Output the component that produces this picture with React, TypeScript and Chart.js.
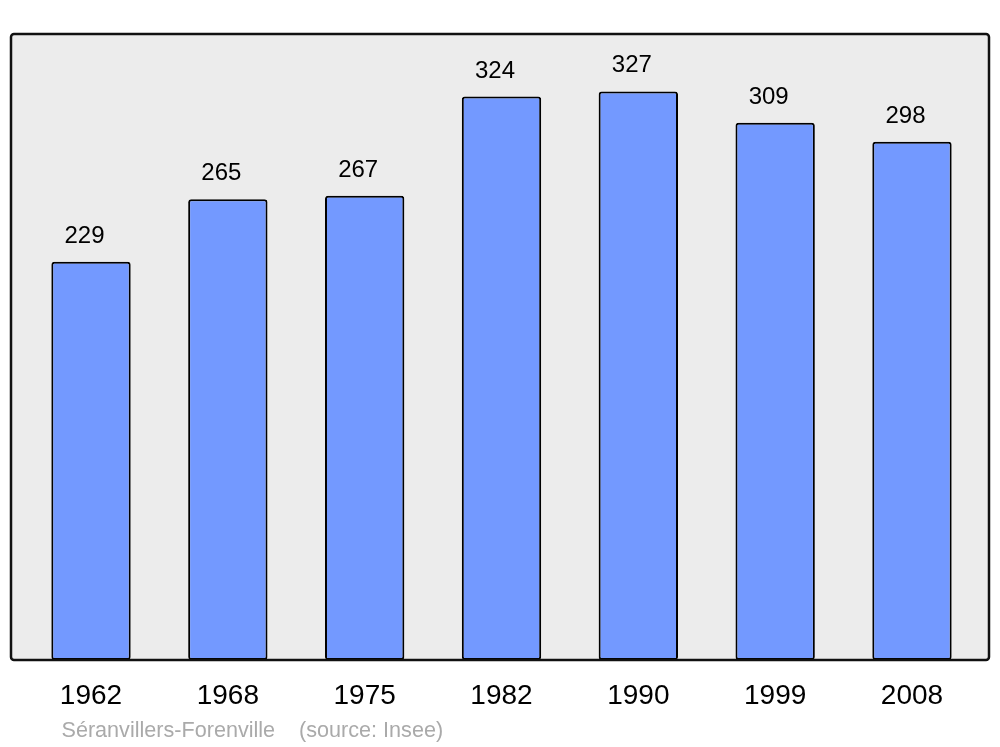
import React, { useEffect, useRef } from "react";
import { Chart, registerables } from "chart.js";

Chart.register(...registerables);

const years = ["1962", "1968", "1975", "1982", "1990", "1999", "2008"];
const population = [229, 265, 267, 324, 327, 309, 298];
const sourceText = "Séranvillers-Forenville    (source: Insee)";

const FONT = "'Liberation Sans', Arial, sans-serif";

const framePlugin = {
  id: "frame",
  beforeDatasetsDraw(chart: any) {
    const { ctx, chartArea } = chart;
    const l = chartArea.left - 11.6;
    const r = chartArea.right + 8.6;
    const t = chartArea.top;
    const b = chartArea.bottom;
    ctx.save();
    ctx.beginPath();
    ctx.roundRect(l, t, r - l, b - t, 3);
    ctx.fillStyle = "#ececec";
    ctx.fill();
    ctx.restore();
  },
  afterDatasetsDraw(chart: any) {
    const { ctx, chartArea } = chart;
    const l = chartArea.left - 11.6;
    const r = chartArea.right + 8.6;
    const t = chartArea.top;
    const b = chartArea.bottom;
    ctx.save();
    ctx.beginPath();
    ctx.roundRect(l, t, r - l, b - t, 3);
    ctx.lineWidth = 2.5;
    ctx.strokeStyle = "#111111";
    ctx.stroke();

    const meta = chart.getDatasetMeta(0);
    ctx.fillStyle = "#000000";
    ctx.font = `24px ${FONT}`;
    ctx.textAlign = "center";
    ctx.textBaseline = "alphabetic";
    meta.data.forEach((bar: any, i: number) => {
      ctx.fillText(String(population[i]), bar.x - 6.5, bar.y - 19);
    });

    ctx.fillStyle = "#aaaaaa";
    ctx.font = `21.6px ${FONT}`;
    ctx.textAlign = "left";
    ctx.fillText(sourceText, 61.5, 737);
    ctx.restore();
  },
};

export default function App() {
  const ref = useRef<HTMLCanvasElement | null>(null);
  useEffect(() => {
    if (!ref.current) return;
    const chart = new Chart(ref.current, {
      type: "bar",
      data: {
        labels: years,
        datasets: [
          {
            data: population,
            backgroundColor: "#7399ff",
            borderColor: "#000000",
            borderWidth: 2,
            borderRadius: 3,
            borderSkipped: false,
            categoryPercentage: 1,
            barPercentage: 0.58,
          },
        ],
      },
      options: {
        animation: false,
        responsive: false,
        maintainAspectRatio: false,
        devicePixelRatio: 1,
        layout: { padding: { left: 22.6, right: 19.6, top: 34, bottom: 0 } },
        plugins: {
          legend: { display: false },
          tooltip: { enabled: false },
        },
        scales: {
          x: {
            grid: { display: false, drawTicks: false },
            border: { display: false },
            ticks: {
              color: "#000000",
              font: { size: 28, family: FONT },
              padding: 19.5,
            },
            afterFit(scale: any) {
              scale.height = 87;
            },
          },
          y: {
            display: false,
            min: 0,
            max: 360,
          },
        },
      },
      plugins: [framePlugin],
    });
    return () => chart.destroy();
  }, []);
  return (
    <div style={{ position: "fixed", left: 0, top: 0, width: 1000, height: 747, background: "#ffffff" }}>
      <canvas ref={ref} width={1000} height={747} style={{ width: 1000, height: 747 }} />
    </div>
  );
}
